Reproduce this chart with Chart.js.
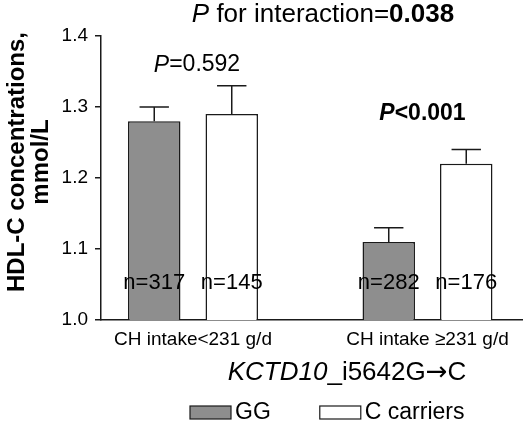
<!DOCTYPE html>
<html>
<head>
<meta charset="utf-8">
<script src="https://cdn.jsdelivr.net/npm/chart.js@4.4.0/dist/chart.umd.min.js"></script>
<style>
  html, body { margin: 0; padding: 0; background: #fff; }
  #wrap { width: 531px; height: 424px; position: relative; }
</style>
</head>
<body>
<div id="wrap"><canvas id="myChart"></canvas></div>
<script>
// data
var categories = ['CH intake<231 g/d', 'CH intake \u2265231 g/d'];
var seriesNames = ['GG', 'C carriers'];
var ggValues = [1.28, 1.11];
var ggErrors = [0.02, 0.02];
var ggCounts = [317, 282];
var cValues = [1.29, 1.22];
var cErrors = [0.04, 0.02];
var cCounts = [145, 176];
var yTicks = [1.0, 1.1, 1.2, 1.3, 1.4];
var groupP = ['=0.592', '<0.001'];
var groupPBold = [false, true];
var interactionP = '0.038';

var FONT = '"Liberation Sans", Arial, sans-serif';
var INK = '#1a1a1a';

function toPoints(vals) {
  return vals.map(function(v, i) { return { x: i + 1, y: v }; });
}

function fontOf(p, size) {
  return (p.i ? 'italic ' : '') + (p.b ? 'bold ' : '') + size + 'px ' + (p.f || FONT);
}

// draws a line of mixed italic / bold pieces, centred on cx
function drawRich(ctx, parts, cx, cy, size) {
  var total = 0;
  parts.forEach(function(p) {
    ctx.font = fontOf(p, size);
    p.w = ctx.measureText(p.t).width;
    total += p.w;
  });
  var x = cx - total / 2;
  ctx.textAlign = 'left';
  ctx.textBaseline = 'middle';
  parts.forEach(function(p) {
    ctx.font = fontOf(p, size);
    ctx.fillText(p.t, x, cy);
    x += p.w;
  });
}

//error bars (upper only) + n labels
var barExtras = {
  id: 'barExtras',
  afterDatasetsDraw: function(chart) {
    var ctx = chart.ctx;
    var yScale = chart.scales.y;
    ctx.save();
    chart.data.datasets.forEach(function(ds, i) {
      var meta = chart.getDatasetMeta(i);
      meta.data.forEach(function(bar, j) {
        var top = yScale.getPixelForValue(ds.data[j].y + ds.errors[j]);
        var half = bar.width * 0.28;
        ctx.strokeStyle = INK;
        ctx.lineWidth = 1.5;
        ctx.beginPath();
        ctx.moveTo(bar.x, bar.y);
        ctx.lineTo(bar.x, top);
        ctx.moveTo(bar.x - half, top);
        ctx.lineTo(bar.x + half, top);
        ctx.stroke();
        ctx.fillStyle = '#000';
        ctx.font = '22px ' + FONT;
        ctx.textAlign = 'center';
        ctx.textBaseline = 'middle';
        ctx.fillText('n=' + ds.counts[j], bar.x, yScale.getPixelForValue(1.052));
      });
    });
    ctx.restore();
  }
};

// titles, p values, legend
var textPlugin = {
  id: 'textPlugin',
  afterDraw: function(chart) {
    var ctx = chart.ctx;
    var xScale = chart.scales.x;
    var yScale = chart.scales.y;
    ctx.save();
    ctx.fillStyle = '#000';

    drawRich(ctx, [{t: 'P', i: true}, {t: ' for interaction='}, {t: interactionP, b: true}], 323, 15, 26);

    var pY = [1.359, 1.291];
    var pDx = [4, -5];
    groupP.forEach(function(p, i) {
      var b = groupPBold[i];
      drawRich(ctx, [{t: 'P', i: true, b: b}, {t: p, b: b}],
        xScale.getPixelForValue(i + 1) + pDx[i], yScale.getPixelForValue(pY[i]), 23);
    });

    // y title
    ctx.save();
    ctx.translate(17, 162);
    ctx.rotate(-Math.PI / 2);
    ctx.font = 'bold 24px ' + FONT;
    ctx.textAlign = 'center';
    ctx.textBaseline = 'middle';
    ctx.fillText('HDL-C concentrations,', 0, 0);
    ctx.fillText('mmol/L', 0, 24);
    ctx.restore();

    // x title
    drawRich(ctx, [{t: 'KCTD10', i: true}, {t: '_i5642G'}, {t: '\u2192', f: '"DejaVu Sans"'}, {t: 'C'}], 347, 373, 26);

    // legend
    var lx = 190, ly = 406;
    ctx.font = '23px ' + FONT;
    ctx.textAlign = 'left';
    ctx.textBaseline = 'middle';
    chart.data.datasets.forEach(function(ds) {
      ctx.fillStyle = ds.backgroundColor;
      ctx.fillRect(lx, ly, 41, 13);
      ctx.strokeStyle = INK;
      ctx.lineWidth = 1.2;
      ctx.strokeRect(lx, ly, 41, 13);
      ctx.fillStyle = '#000';
      ctx.fillText(ds.label, lx + 45, ly + 7);
      lx += 41 + 45 + ctx.measureText(ds.label).width + 8;
    });
    ctx.restore();
  }
};

var ctx = document.getElementById('myChart').getContext('2d');
var chart = new Chart(ctx, {
  type: 'bar',
  data: {
    datasets: [{
      label: seriesNames[0],
      data: toPoints(ggValues),
      errors: ggErrors,
      counts: ggCounts,
      backgroundColor: '#8e8e8e',
      borderColor: INK,
      borderWidth: 1.5
    }, {
      label: seriesNames[1],
      data: toPoints(cValues),
      errors: cErrors,
      counts: cCounts,
      backgroundColor: '#ffffff',
      borderColor: INK,
      borderWidth: 1.5
    }]
  },
  options: {
    responsive: true,
    maintainAspectRatio: false,
    animation: false,
    categoryPercentage: 0.661,
    barPercentage: 0.677,
    layout: { padding: { left: 0, right: 9, top: 36, bottom: 0 } },
    plugins: {
      legend: { display: false },
      tooltip: { enabled: false },
      title: { display: false }
    },
    scales: {
      x: {
        type: 'linear',
        offset: false,
        min: 0.6077,
        max: 2.403,
        afterBuildTicks: function(scale) {
          scale.ticks = categories.map(function(c, i) { return { value: i + 1 }; });
        },
        afterFit: function(scale) { scale.height = 104; },
        grid: { display: false },
        border: { display: true, color: INK, width: 1.5 },
        ticks: {
          color: '#000',
          font: { family: FONT, size: 19 },
          padding: 0,
          maxRotation: 0,
          autoSkip: false,
          callback: function(v) { return categories[v - 1]; }
        }
      },
      y: {
        min: 1.0,
        max: 1.4,
        afterBuildTicks: function(scale) {
          scale.ticks = yTicks.map(function(v) { return { value: v }; });
        },
        afterFit: function(scale) { scale.width = 101; },
        grid: { drawOnChartArea: false, drawTicks: true, tickLength: 6, color: INK, lineWidth: 1.5 },
        border: { display: true, color: INK, width: 1.5 },
        ticks: {
          color: '#000',
          font: { family: FONT, size: 19 },
          padding: 7,
          callback: function(v) { return v.toFixed(1); }
        }
      }
    }
  },
  plugins: [barExtras, textPlugin]
});
</script>
</body>
</html>
